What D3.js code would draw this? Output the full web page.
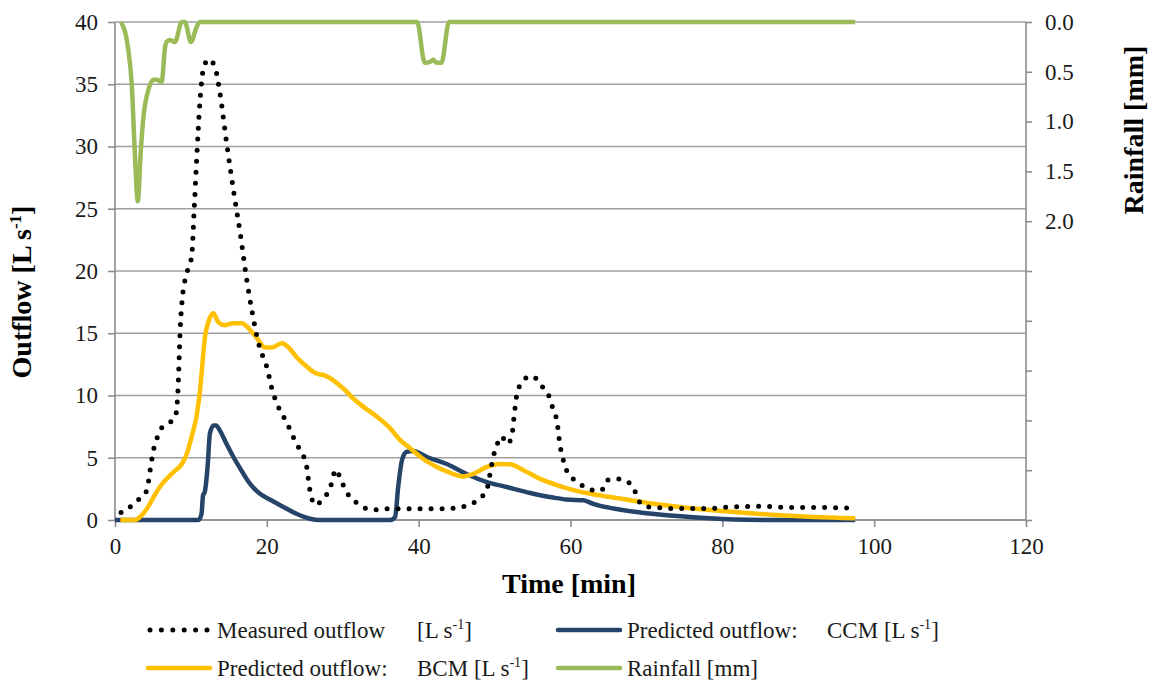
<!DOCTYPE html>
<html>
<head>
<meta charset="utf-8">
<script src="https://cdn.jsdelivr.net/npm/d3@7/dist/d3.min.js"></script>
<style>
  body { margin: 0; background: #fff; }
  svg text { font-family: "Liberation Serif", "Times New Roman", serif; }
</style>
</head>
<body>
<svg id="chart" width="1155" height="686"></svg>
<script>
// ---- Data ----
const measuredTime = [0.8,2.2,3.3,4.2,4.6,5.1,5.5,6.0,7.2,8.0,8.3,8.6,8.9,9.4,10.1,10.45,10.8,11.2,11.7,12.4,13.2,13.8,14.7,15.6,16.5,17.35,18.1,18.9,19.5,20.0,20.6,21.5,22.2,23.1,23.9,24.8,25.3,25.6,26.4,27.4,28.3,29.1,29.7,30.3,31.0,32.1,33.2,34.7,36.0,40,44,45.7,47.2,48.3,49.0,49.4,49.8,50.3,50.9,51.7,52.3,52.6,53.0,53.6,54.6,55.8,56.4,57.3,57.75,58.2,58.6,59.2,59.7,60.6,61.7,63.0,64.1,64.8,66.0,67.4,68.4,68.9,69.8,71.4,74.4,78.4,81.0,85.5,88.6,93,97.5];
const measuredOutflow = [0.6,1.15,1.75,2.4,3.9,5.7,6.5,7.3,7.8,8.4,10.5,15.5,18.0,19.7,21.2,25.2,29.5,33.7,36.4,37.0,36.3,34.4,30.3,26.5,23.0,19.3,16.6,14.2,13.1,12.3,10.7,9.1,8.3,7.2,6.1,5.2,4.1,2.65,1.2,1.7,2.5,4.05,3.3,2.5,1.8,1.3,0.9,0.83,0.9,0.9,0.92,1.05,1.37,1.85,2.5,3.7,5.0,6.0,6.7,6.1,6.9,8.5,10.3,11.0,11.55,11.2,10.6,9.75,8.8,8.0,6.1,4.5,3.7,3.2,2.7,2.4,2.4,3.2,3.3,3.1,2.45,1.65,1.1,1.0,0.92,0.92,1.05,1.1,1.0,1.0,0.95];

const ccmTime = [0,11.0,11.4,11.6,11.8,12.2,12.5,13.0,13.3,13.8,14.7,15.6,16.5,17.8,19.1,20.4,22.2,23.9,25.7,26.9,36.3,36.9,37.3,37.8,38.4,39.3,41.1,43.7,46.3,49.0,51.6,54.7,57.7,59.5,61.7,63.0,65.65,69.2,72.7,77.1,81.5,87.6,97.5];
const ccmOutflow = [0,0,0.5,2.0,2.2,4.3,6.95,7.6,7.6,7.2,6.1,5.06,4.13,2.9,2.1,1.64,1.05,0.5,0.1,0,0,0.25,2.65,4.8,5.47,5.55,5.06,4.5,3.7,3.05,2.65,2.17,1.8,1.64,1.58,1.3,0.92,0.6,0.38,0.19,0.05,0,0];

const bcmTime = [0.7,2.6,3.3,4.2,5.05,5.9,6.8,7.7,8.8,9.45,10.1,10.8,11.2,11.55,11.85,12.3,12.95,13.6,14.5,15.6,16.7,17.6,18.7,19.8,20.6,22.0,22.8,23.9,25.3,26.4,27.7,28.8,30.1,31.4,32.7,34.5,36.2,37.5,38.9,40.6,42.4,44.1,45.9,47.2,49.0,50.7,52.0,53.8,56.0,58.2,60.4,63.0,66.5,70.1,74.4,78.8,83.2,87.6,92,97.5];
const bcmOutflow = [0,0,0.25,0.9,1.8,2.65,3.3,3.85,4.5,5.3,6.7,8.55,10.4,12.8,14.7,15.9,16.6,15.9,15.65,15.8,15.8,15.4,14.6,13.85,13.85,14.2,13.9,13.1,12.3,11.8,11.6,11.2,10.55,9.75,9.1,8.3,7.4,6.45,5.75,4.9,4.26,3.8,3.5,3.7,4.26,4.5,4.48,4.0,3.3,2.8,2.4,2.07,1.72,1.37,1.05,0.78,0.56,0.38,0.25,0.15];

const rainTime = [0.8,1.75,2.2,2.6,3.0,3.4,3.75,4.4,5.05,5.5,6.15,6.6,6.8,7.2,7.9,8.8,9.2,10.0,10.76,11.2,39.8,40.8,41.5,41.9,42.4,43.0,44.0,97.5];
const rainfall = [0,0.28,0.62,1.29,1.80,1.29,0.95,0.68,0.58,0.58,0.6,0.25,0.2,0.18,0.2,0,0,0.2,0.05,0,0,0.41,0.4,0.38,0.41,0.41,0,0];

const xTicks = [0,20,40,60,80,100,120];
const yTicks = [0,5,10,15,20,25,30,35,40];
const rainTicks = [0,0.5,1.0,1.5,2.0,2.5,3.0,3.5,4.0,4.5,5.0];
const rainLabelMax = 2.0;

const legendItems = [
  {key: "measured", label: "Measured outflow", unit: "[L s", sup: "-1", close: "]"},
  {key: "ccm", label: "Predicted outflow:", unit: "CCM [L s", sup: "-1", close: "]"},
  {key: "bcm", label: "Predicted outflow:", unit: "BCM [L s", sup: "-1", close: "]"},
  {key: "rain", label: "Rainfall [mm]", unit: "", sup: "", close: ""}
];

// ---- Layout ----
const plotL = 115, plotR = 1026, plotT = 22, plotB = 520;
const colors = {measured: "#000000", ccm: "#264469", bcm: "#FFC000", rain: "#9BBB59", grid: "#A0A0A0", axis: "#8C8C8C", text: "#1a1a1a"};

const svg = d3.select("#chart");
const x = d3.scaleLinear().domain([0, 120]).range([plotL, plotR]);
const y = d3.scaleLinear().domain([0, 40]).range([plotB, plotT]);
const yR = d3.scaleLinear().domain([0, 5]).range([plotT, plotB]);

// gridlines
svg.append("g").selectAll("line").data(yTicks).join("line")
  .attr("x1", plotL).attr("x2", plotR)
  .attr("y1", d => y(d)).attr("y2", d => y(d))
  .attr("stroke", colors.grid).attr("stroke-width", 1.6);

// left axis
const gL = svg.append("g").attr("transform", `translate(${plotL},0)`)
  .call(d3.axisLeft(y).tickValues(yTicks).tickSize(7).tickPadding(10).tickFormat(d3.format("d")));
// bottom axis
const gB = svg.append("g").attr("transform", `translate(0,${plotB})`)
  .call(d3.axisBottom(x).tickValues(xTicks).tickSize(7).tickPadding(11).tickFormat(d3.format("d")));
// right axis
const gR = svg.append("g").attr("transform", `translate(${plotR},0)`)
  .call(d3.axisRight(yR).tickValues(rainTicks).tickSize(6).tickPadding(13)
    .tickFormat(d => d <= rainLabelMax + 1e-9 ? d3.format(".1f")(d) : ""));

[gL, gB, gR].forEach(g => {
  g.selectAll(".domain").attr("stroke", colors.axis).attr("stroke-width", 1.6);
  g.selectAll(".tick line").attr("stroke", colors.axis).attr("stroke-width", 1.6);
  g.selectAll(".tick text").attr("font-size", 23).attr("fill", colors.text)
    .style("font-family", '"Liberation Serif", serif');
});
gL.select(".domain").attr("d", `M0,${plotB}V${plotT}`);
gR.select(".domain").attr("d", `M0,${plotT}V${plotB}`);
gB.select(".domain").attr("d", `M${plotL},0H${plotR}`);

// series
const mk = (ts, vs) => ts.map((t, i) => [t, vs[i]]);
const lineL = d3.line().x(d => x(d[0])).y(d => y(d[1])).curve(d3.curveMonotoneX);
const lineR = d3.line().x(d => x(d[0])).y(d => yR(d[1])).curve(d3.curveMonotoneX);

svg.append("path").datum(mk(ccmTime, ccmOutflow)).attr("d", lineL)
  .attr("fill", "none").attr("stroke", colors.ccm).attr("stroke-width", 4.5).attr("stroke-linejoin", "round");
svg.append("path").datum(mk(bcmTime, bcmOutflow)).attr("d", lineL)
  .attr("fill", "none").attr("stroke", colors.bcm).attr("stroke-width", 4.5).attr("stroke-linejoin", "round");
svg.append("path").datum(mk(measuredTime, measuredOutflow)).attr("d", lineL)
  .attr("fill", "none").attr("stroke", colors.measured).attr("stroke-width", 5)
  .attr("stroke-linecap", "round").attr("stroke-dasharray", "0 11");
svg.append("path").datum(mk(rainTime, rainfall)).attr("d", lineR)
  .attr("fill", "none").attr("stroke", colors.rain).attr("stroke-width", 4.5).attr("stroke-linejoin", "round");

// axis titles
const yTitle = svg.append("text")
  .attr("transform", `translate(31,292) rotate(-90)`)
  .attr("text-anchor", "middle").attr("font-size", 28).attr("font-weight", "bold").attr("fill", "#000");
yTitle.append("tspan").text("Outflow [L s");
yTitle.append("tspan").attr("dy", -10).attr("font-size", 17).text("-1");
yTitle.append("tspan").attr("dy", 10).text("]");

svg.append("text").attr("x", 569).attr("y", 593).attr("text-anchor", "middle")
  .attr("font-size", 28).attr("font-weight", "bold").attr("fill", "#000").text("Time [min]");

svg.append("text").attr("transform", `translate(1143,130) rotate(-90)`)
  .attr("text-anchor", "middle").attr("font-size", 28).attr("font-weight", "bold").attr("fill", "#000")
  .text("Rainfall [mm]");

// legend
const legPos = {
  measured: {x: 148, y: 630, unitX: 417},
  ccm: {x: 558, y: 630, unitX: 827},
  bcm: {x: 148, y: 668, unitX: 417},
  rain: {x: 558, y: 668, unitX: null}
};
legendItems.forEach(it => {
  const p = legPos[it.key];
  const ln = svg.append("line").attr("x1", p.x).attr("x2", p.x + 62).attr("y1", p.y).attr("y2", p.y)
    .attr("stroke", colors[it.key]);
  if (it.key === "measured") {
    ln.attr("x1", p.x + 2).attr("x2", p.x + 60).attr("stroke-width", 5).attr("stroke-linecap", "round").attr("stroke-dasharray", "0 11.4");
  } else {
    ln.attr("stroke-width", 4.5).attr("stroke-linecap", "round");
  }
  svg.append("text").attr("x", p.x + 69).attr("y", p.y + 8).attr("font-size", 23).attr("fill", colors.text).text(it.label);
  if (it.unit) {
    const t = svg.append("text").attr("x", p.unitX).attr("y", p.y + 8).attr("font-size", 23).attr("fill", colors.text);
    t.append("tspan").text(it.unit);
    t.append("tspan").attr("dy", -9).attr("font-size", 14).text(it.sup);
    t.append("tspan").attr("dy", 9).text(it.close);
  }
});
</script>
</body>
</html>
